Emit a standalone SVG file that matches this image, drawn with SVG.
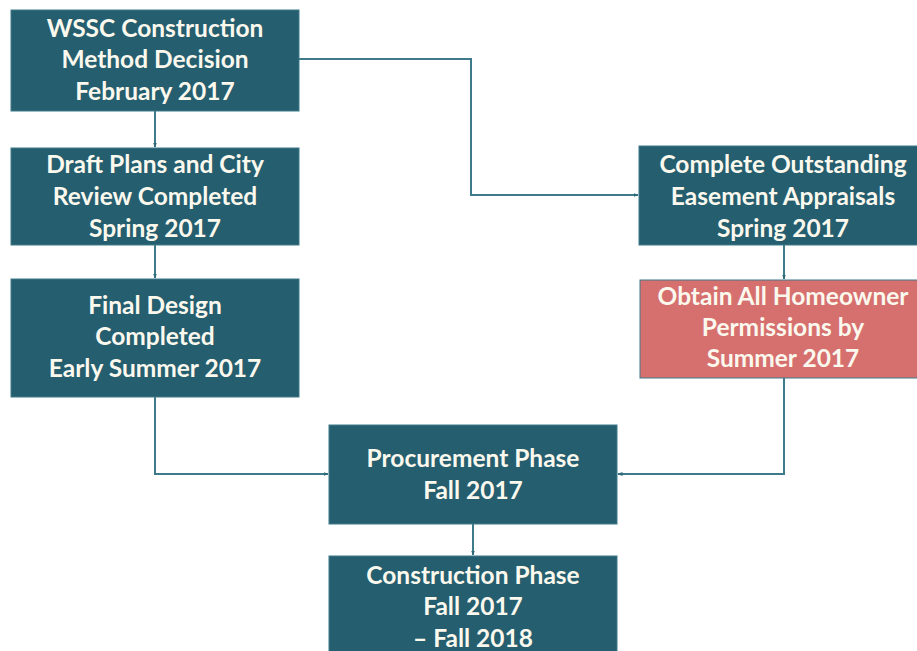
<svg xmlns="http://www.w3.org/2000/svg" width="917" height="651" viewBox="0 0 917 651">
<defs>
<style>
.box{fill:#255E6E;stroke:#3E7A8A;stroke-width:1}
.red{fill:#D6706E;stroke:#3E7A8A;stroke-width:1}
.t{font-family:Lato,"Open Sans",sans-serif;font-weight:bold;font-size:24.5px;fill:#FBF8EE;text-anchor:middle}
.c{fill:none;stroke:#3E7A8A;stroke-width:2}
</style>
<marker id="ah" viewBox="0 0 10 10" refX="9" refY="5" markerWidth="5" markerHeight="5" orient="auto" markerUnits="userSpaceOnUse">
<path d="M0,1 L10,5 L0,9 z" fill="#2F6A7A"/>
</marker>
</defs>
<rect width="917" height="651" fill="#FFFFFF"/>
<g id="connectors">
<path class="c" d="M299,59 H471 V195 H638" marker-end="url(#ah)"/>
<path class="c" d="M155,111 V147" marker-end="url(#ah)"/>
<path class="c" d="M155,245 V278" marker-end="url(#ah)"/>
<path class="c" d="M155,397 V474 H328" marker-end="url(#ah)"/>
<path class="c" d="M784,245 V279" marker-end="url(#ah)"/>
<path class="c" d="M784,378 V474 H618" marker-end="url(#ah)"/>
<path class="c" d="M473,524 V555" marker-end="url(#ah)"/>
</g>
<g id="n1">
<rect class="box" x="11" y="10" width="288" height="101"/>
<text class="t" x="155" y="37">WSSC Construction</text>
<text class="t" x="155" y="68">Method Decision</text>
<text class="t" x="155" y="100">February 2017</text>
</g>
<g id="n2">
<rect class="box" x="11" y="148" width="288" height="97"/>
<text class="t" x="155" y="173">Draft Plans and City</text>
<text class="t" x="155" y="205">Review Completed</text>
<text class="t" x="155" y="237">Spring 2017</text>
</g>
<g id="n3">
<rect class="box" x="11" y="279" width="288" height="118"/>
<text class="t" x="155" y="314">Final Design</text>
<text class="t" x="155" y="345">Completed</text>
<text class="t" x="155" y="377">Early Summer 2017</text>
</g>
<g id="n4">
<rect class="box" x="639" y="146" width="288" height="99"/>
<text class="t" x="783" y="173">Complete Outstanding</text>
<text class="t" x="783" y="205">Easement Appraisals</text>
<text class="t" x="783" y="237">Spring 2017</text>
</g>
<g id="n5">
<rect class="red" x="640" y="280" width="288" height="98"/>
<text class="t" x="783" y="305">Obtain All Homeowner</text>
<text class="t" x="783" y="336">Permissions by</text>
<text class="t" x="783" y="367">Summer 2017</text>
</g>
<g id="n6">
<rect class="box" x="329" y="425" width="288" height="99"/>
<text class="t" x="473" y="467">Procurement Phase</text>
<text class="t" x="473" y="499">Fall 2017</text>
</g>
<g id="n7">
<rect class="box" x="329" y="556" width="288" height="110"/>
<text class="t" x="473" y="584">Construction Phase</text>
<text class="t" x="473" y="615">Fall 2017</text>
<text class="t" x="473" y="647">– Fall 2018</text>
</g>
</svg>
